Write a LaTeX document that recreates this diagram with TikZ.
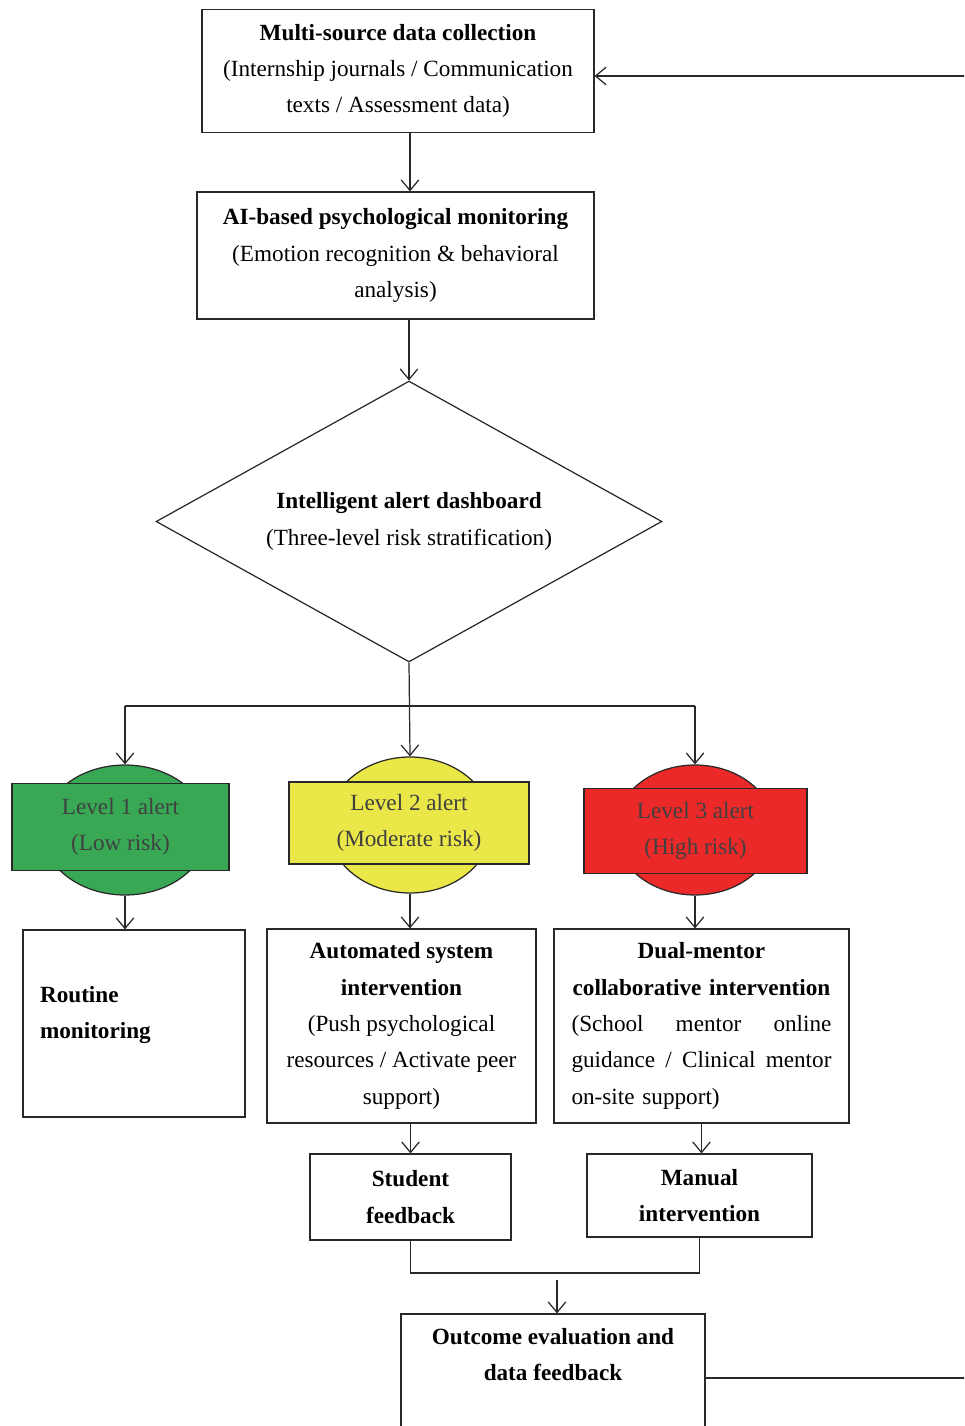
\documentclass[tikz,border=0pt]{standalone}
\usepackage{fontspec}
\setmainfont{Liberation Serif}
\usetikzlibrary{shapes.geometric,arrows.meta}
\definecolor{lowgreen}{RGB}{56,168,84}
\definecolor{modyellow}{RGB}{233,232,72}
\definecolor{highred}{RGB}{236,41,41}
\definecolor{linegray}{RGB}{40,40,40}
\tikzset{
  box/.style={draw=linegray, line width=0.7pt, align=center, inner sep=0pt},
  alertbox/.style={box, text=black!75},
  blob/.style={ellipse, draw=linegray, line width=0.7pt, inner sep=0pt},
  ln/.style={draw=linegray, line width=0.7pt},
  arr/.style={ln, -{Straight Barb[length=6pt,width=10pt]}}
}
\begin{document}
\begin{tikzpicture}[x=0.02cm, y=-0.02cm, font=\fontsize{13.2}{20.7}\selectfont]
\useasboundingbox (0,0) rectangle (964,1426);
\clip (0,0) rectangle (964,1426);
% top of the chain
\node[box, minimum width=7.84cm, minimum height=2.46cm] (src) at (398,71)
  {\textbf{Multi-source data collection}\\(Internship journals / Communication\\texts / Assessment data)};
\node[box, minimum width=7.94cm, minimum height=2.54cm] (mon) at (395.5,255.5)
  {\textbf{AI-based psychological monitoring}\\(Emotion recognition \& behavioral\\analysis)};
\node[box, diamond, aspect=1.8, minimum width=10.12cm, minimum height=5.62cm] (dash) at (409,521.5)
  {\textbf{Intelligent alert dashboard}\\(Three-level risk stratification)};
% alert levels
\node[blob, fill=lowgreen, minimum width=3.32cm, minimum height=2.6cm] (l1e) at (125,830) {};
\node[alertbox, fill=lowgreen, minimum width=4.34cm, minimum height=1.74cm] (l1) at (120.5,827)
  {Level 1 alert\\(Low risk)};
\node[blob, fill=modyellow, minimum width=3.28cm, minimum height=2.72cm] (l2e) at (410,825) {};
\node[alertbox, fill=modyellow, minimum width=4.8cm, minimum height=1.64cm] (l2) at (409,823)
  {Level 2 alert\\(Moderate risk)};
\node[blob, fill=highred, minimum width=3.2cm, minimum height=2.6cm] (l3e) at (695,830) {};
\node[alertbox, fill=highred, minimum width=4.46cm, minimum height=1.7cm] (l3) at (695.5,831)
  {Level 3 alert\\(High risk)};
% responses
\node[box, align=left, text width=3.76cm, inner xsep=0.34cm, minimum height=3.74cm] (rout) at (134,1023.5)
  {\textbf{Routine}\\\textbf{monitoring}\\[-14pt]\strut};
\node[box, minimum width=5.38cm, minimum height=3.88cm] (auto) at (401.5,1026)
  {\textbf{Automated system}\\\textbf{intervention}\\(Push psychological\\resources / Activate peer\\support)};
\node[box, text width=5.2cm, inner xsep=0.35cm, minimum height=3.88cm] (dual) at (701.5,1026)
  {\textbf{Dual-mentor}\\\textbf{collaborative intervention}\\
   \makebox[5.2cm]{(School\hfill mentor\hfill online}\\
   \makebox[5.2cm]{guidance\hfill /\hfill Clinical\hfill mentor}\\
   \makebox[5.2cm][l]{on-site support)}};
\node[box, minimum width=4.02cm, minimum height=1.72cm] (fb) at (410.5,1197)
  {\textbf{Student}\\\textbf{feedback}};
\node[box, minimum width=4.5cm, minimum height=1.66cm] (man) at (699.5,1195.5)
  {\textbf{Manual}\\\textbf{intervention}};
\node[box, minimum width=6.08cm, minimum height=2.56cm] (outc) at (553,1378)
  {\textbf{Outcome evaluation and}\\\textbf{data feedback}\\\strut};
\coordinate (sp) at (409,706);
\coordinate (mg) at (557,1273);
\coordinate (mga) at (557,1280);
\coordinate (loop) at (990,700);
% connectors
\draw[arr] ([xshift=0.24cm]src.south) -- ([xshift=0.24cm]src.south |- mon.north);
\draw[arr] (dash.north |- mon.south) -- (dash.north);
\draw[arr] (dash.south) -- (l2e.north);
\draw[ln] (l1e.north |- sp) -- (l3e.north |- sp);
\draw[arr] (l1e.north |- sp) -- (l1e.north);
\draw[arr] (l3e.north |- sp) -- (l3e.north);
\draw[arr] (l1e.south) -- (l1e.south |- rout.north);
\draw[arr] (l2e.south) -- (l2e.south |- auto.north);
\draw[arr] (l3e.south) -- (l3e.south |- dual.north);
\draw[arr] (fb.north |- auto.south) -- (fb.north);
\draw[arr] (dual.south) -- (dual.south |- man.north);
\draw[ln] (fb.south) |- (mg) -| (man.south);
\draw[arr] (mga) -- (mga |- outc.north);
\draw[arr] (outc.east) -| (loop) |- ([yshift=-0.1cm]src.east);
\end{tikzpicture}
\end{document}
